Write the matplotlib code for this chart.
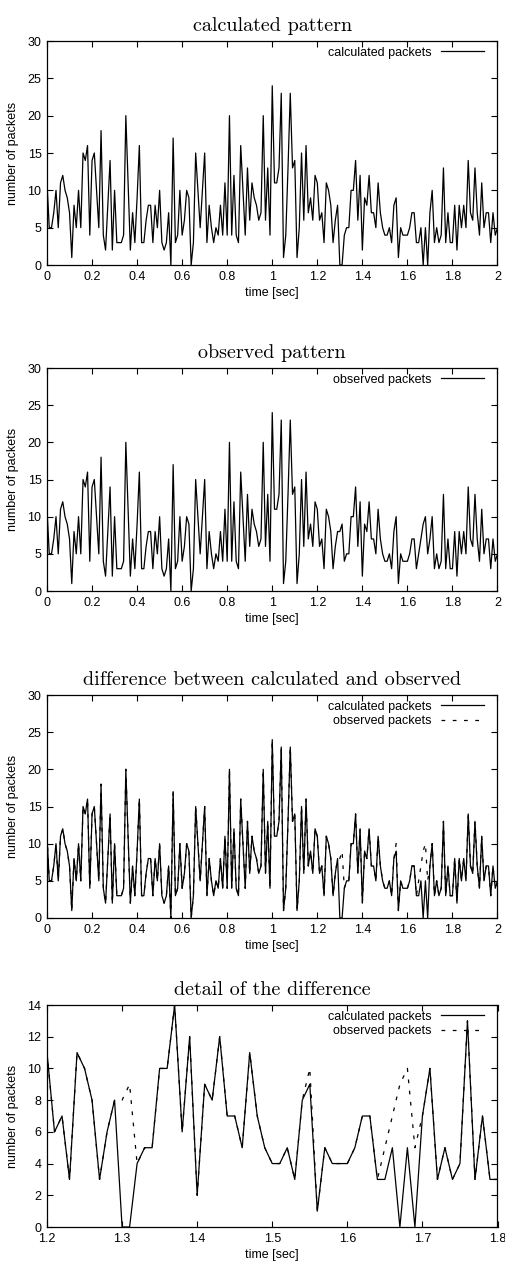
import numpy as np
import matplotlib
matplotlib.use('Agg')
import matplotlib.pyplot as plt
from matplotlib.ticker import FuncFormatter

# ---------------- data ----------------
time_sec = np.round(np.linspace(0.0, 2.0, 201), 2)

calculated_packets = [
    11, 5, 5, 7, 10, 5, 11, 12, 10, 9,      # 0.00-0.09
    7, 1, 8, 5, 10, 5, 15, 14, 16, 4,       # 0.10-0.19
    14, 15, 10, 5, 18, 4, 2, 8, 14, 2,      # 0.20-0.29
    10, 3, 3, 3, 4, 20, 11, 2, 7, 3,        # 0.30-0.39
    9, 16, 3, 3, 6, 8, 8, 3, 8, 5,          # 0.40-0.49
    10, 3, 2, 3, 7, 0, 17, 3, 4, 10,        # 0.50-0.59
    4, 6, 10, 9, 0, 3, 15, 10, 5, 10,       # 0.60-0.69
    15, 3, 8, 5, 3, 5, 4, 8, 4, 11,         # 0.70-0.79
    4, 20, 4, 12, 4, 3, 16, 10, 4, 13,      # 0.80-0.89
    6, 11, 9, 8, 6, 7, 20, 6, 13, 4,        # 0.90-0.99
    24, 11, 11, 13, 23, 1, 4, 13, 23, 13,   # 1.00-1.09
    14, 1, 5, 15, 6, 16, 7, 9, 6, 12,       # 1.10-1.19
    11, 6, 7, 3, 11, 10, 8, 3, 6, 8,        # 1.20-1.29
    0, 0, 4, 5, 5, 10, 10, 14, 6, 12,       # 1.30-1.39
    2, 9, 8, 12, 7, 7, 5, 11, 7, 5,         # 1.40-1.49
    4, 4, 5, 3, 8, 9, 1, 5, 4, 4,           # 1.50-1.59
    4, 5, 7, 7, 3, 3, 5, 0, 5, 0,           # 1.60-1.69
    7, 10, 3, 5, 3, 4, 13, 3, 7, 3,         # 1.70-1.79
    3, 8, 2, 8, 5, 8, 5, 14, 7, 6,          # 1.80-1.89
    13, 7, 4, 11, 5, 7, 7, 3, 7, 4,         # 1.90-1.99
    5]                                      # 2.00

observed_packets = [
    11, 5, 5, 7, 10, 5, 11, 12, 10, 9,      # 0.00-0.09
    7, 1, 8, 5, 10, 5, 15, 14, 16, 4,       # 0.10-0.19
    14, 15, 10, 5, 18, 4, 2, 8, 14, 2,      # 0.20-0.29
    10, 3, 3, 3, 4, 20, 11, 2, 7, 3,        # 0.30-0.39
    9, 16, 3, 3, 6, 8, 8, 3, 8, 5,          # 0.40-0.49
    10, 3, 2, 3, 7, 0, 17, 3, 4, 10,        # 0.50-0.59
    4, 6, 10, 9, 0, 3, 15, 10, 5, 10,       # 0.60-0.69
    15, 3, 8, 5, 3, 5, 4, 8, 4, 11,         # 0.70-0.79
    4, 20, 4, 12, 4, 3, 16, 10, 4, 13,      # 0.80-0.89
    6, 11, 9, 8, 6, 7, 20, 6, 13, 4,        # 0.90-0.99
    24, 11, 11, 13, 23, 1, 4, 13, 23, 13,   # 1.00-1.09
    14, 1, 5, 15, 6, 16, 7, 9, 6, 12,       # 1.10-1.19
    11, 6, 7, 3, 11, 10, 8, 3, 6, 8,        # 1.20-1.29
    8, 9, 4, 5, 5, 10, 10, 14, 6, 12,       # 1.30-1.39
    2, 9, 8, 12, 7, 7, 5, 11, 7, 5,         # 1.40-1.49
    4, 4, 5, 3, 8, 10, 1, 5, 4, 4,          # 1.50-1.59
    4, 5, 7, 7, 3, 5, 7, 9, 10, 5,          # 1.60-1.69
    7, 10, 3, 5, 3, 4, 13, 3, 7, 3,         # 1.70-1.79
    3, 8, 2, 8, 5, 8, 5, 14, 7, 6,          # 1.80-1.89
    13, 7, 4, 11, 5, 7, 7, 3, 7, 4,         # 1.90-1.99
    5]                                      # 2.00

titles = ["calculated pattern", "observed pattern",
          "difference between calculated and observed",
          "detail of the difference"]
full_xticks = [0, 0.2, 0.4, 0.6, 0.8, 1.0, 1.2, 1.4, 1.6, 1.8, 2.0]
full_yticks = [0, 5, 10, 15, 20, 25, 30]
detail_xticks = [1.2, 1.3, 1.4, 1.5, 1.6, 1.7, 1.8]
detail_yticks = [0, 2, 4, 6, 8, 10, 12, 14]

# ---------------- style ----------------
SANS = ['Liberation Sans', 'DejaVu Sans']
SERIF = ['cmr10', 'DejaVu Serif']
plt.rcParams['font.family'] = SANS
plt.rcParams['axes.linewidth'] = 0.9

W, H = 506, 1273
fig = plt.figure(figsize=(W / 100, H / 100), dpi=100)
fig.patch.set_facecolor('white')

panel_tops = [41, 368, 695, 1005]
panel_bottoms = [265, 591, 918, 1227]
x_left, x_right = 47, 497.5

gfmt = FuncFormatter(lambda v, p: '%g' % round(v, 3))
LW = 0.9
DASH = (0, (3, 6))


def make_ax(i):
    top, bot = panel_tops[i], panel_bottoms[i]
    ax = fig.add_axes([x_left / W, 1 - bot / H, (x_right - x_left) / W, (bot - top) / H])
    ax.tick_params(direction='in', length=4, width=0.8, top=True, right=True,
                   labelsize=9, pad=4)
    ax.xaxis.set_major_formatter(gfmt)
    ax.yaxis.set_major_formatter(gfmt)
    ax.set_xlabel('time [sec]', fontsize=9, labelpad=3)
    ax.set_ylabel('number of packets', fontsize=9, labelpad=6)
    ax.set_title(titles[i], family=SERIF, fontsize=14.5, pad=7)
    return ax


def legend(ax):
    ax.legend(loc='upper right', bbox_to_anchor=(0.975, 0.985), frameon=False,
              markerfirst=False, fontsize=9, handlelength=3.4, handletextpad=0.8,
              labelspacing=0.2, borderpad=0.2, borderaxespad=0)


# panel 1
ax = make_ax(0)
ax.plot(time_sec, calculated_packets, color='black', lw=LW, label='calculated packets')
ax.set_xlim(0, 2); ax.set_ylim(0, 30)
ax.set_xticks(full_xticks); ax.set_yticks(full_yticks)
legend(ax)

# panel 2
ax = make_ax(1)
ax.plot(time_sec, observed_packets, color='black', lw=LW, label='observed packets')
ax.set_xlim(0, 2); ax.set_ylim(0, 30)
ax.set_xticks(full_xticks); ax.set_yticks(full_yticks)
legend(ax)

# panel 3
ax = make_ax(2)
ax.plot(time_sec, calculated_packets, color='black', lw=LW, label='calculated packets')
ax.plot(time_sec, observed_packets, color='black', lw=LW, ls=DASH, label='observed packets')
ax.set_xlim(0, 2); ax.set_ylim(0, 30)
ax.set_xticks(full_xticks); ax.set_yticks(full_yticks)
legend(ax)

# panel 4 (detail)
ax = make_ax(3)
ax.plot(time_sec, calculated_packets, color='black', lw=LW, label='calculated packets')
ax.plot(time_sec, observed_packets, color='black', lw=LW, ls=DASH, label='observed packets')
ax.set_xlim(1.2, 1.8); ax.set_ylim(0, 14)
ax.set_xticks(detail_xticks); ax.set_yticks(detail_yticks)
legend(ax)

fig.savefig('out.png', dpi=100, facecolor='white')
